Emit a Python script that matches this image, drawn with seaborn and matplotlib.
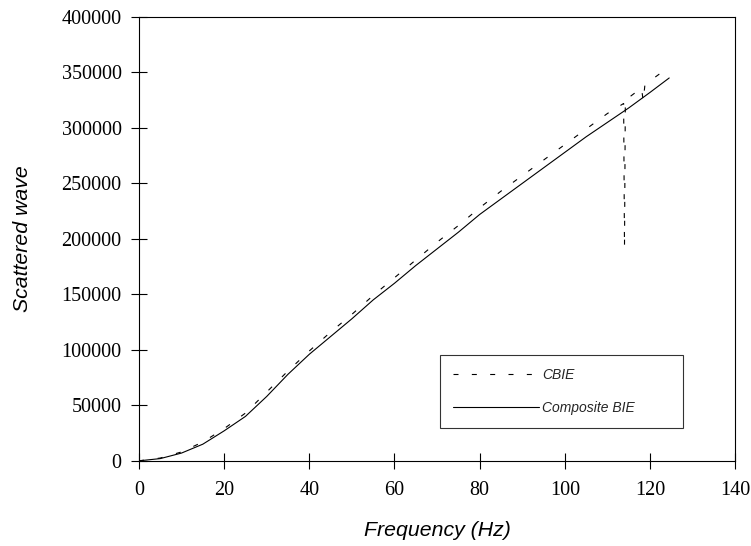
import pandas as pd
import matplotlib.pyplot as plt
import seaborn as sns
import numpy as np

# Composite BIE (solid)
freq_comp = [0, 5, 10, 15, 20, 25, 30, 35, 40, 45, 50, 55, 60, 65, 70, 75, 80,
             85, 90, 95, 100, 105, 110, 115, 120, 124.5]
wave_comp = [0, 2000, 7000, 15000, 27000, 40000, 58000, 78000, 96000, 112000,
             128000, 145000, 160000, 176000, 191000, 206000, 222000, 236000,
             250000, 264000, 278000, 292000, 305000, 318000, 332000, 345000]

# CBIE (dashed), with the spurious dips near 114 and 118 Hz
freq_cbie = [0, 5, 10, 15, 20, 25, 30, 35, 40, 45, 50, 55, 60, 65, 70, 75, 80,
             85, 90, 95, 100, 105, 110, 113.8, 114.0, 114.2, 118.0, 118.4,
             118.8, 122, 124.5]
wave_cbie = [0, 2500, 8000, 17000, 29000, 43000, 62000, 81000, 99000, 116000,
             132000, 149000, 165000, 181000, 197000, 212000, 228000, 243000,
             257000, 271000, 285000, 299000, 313000, 322000, 192000, 325000,
             336000, 324000, 339000, 348000, 355000]

sns.set_style('white')

fig = plt.figure(figsize=(7.51, 5.46), dpi=100)
ax = fig.add_axes([0.185, 0.156, 0.794, 0.813])

sns.lineplot(x=freq_cbie, y=wave_cbie, ax=ax, color='black', lw=0.8,
             sort=False, estimator=None, label='CBIE')
sns.lineplot(x=freq_comp, y=wave_comp, ax=ax, color='black', lw=0.8,
             sort=False, estimator=None, label='Composite BIE')
ax.lines[0].set_dashes((4.5, 12.5))

ax.set_xlim(0, 140)
ax.set_ylim(0, 400000)
ax.set_xticks(np.arange(0, 141, 20))
ax.set_yticks(np.arange(0, 400001, 50000))

for s in ax.spines.values():
    s.set_color('black')
    s.set_linewidth(0.8)

ax.tick_params(axis='both', direction='inout', length=11, width=0.8,
               color='black', left=True, bottom=True)
ax.tick_params(axis='x', pad=9)
ax.tick_params(axis='y', pad=7)
for lab in ax.get_xticklabels() + ax.get_yticklabels():
    lab.set_family('Liberation Serif')
    lab.set_fontsize(14.5)
    lab.set_color('black')

ax.set_xlabel('Frequency (Hz)', family='Liberation Sans', style='italic',
              fontsize=15.3, color='black', labelpad=15)
ax.set_ylabel('Scattered wave', family='Liberation Sans', style='italic',
              fontsize=15.3, color='black', labelpad=21)

leg = ax.legend(loc='lower left', bbox_to_anchor=(0.505, 0.074, 0.408, 0.162),
                mode='expand', borderaxespad=0, fancybox=False, frameon=True,
                handlelength=6.2, handletextpad=0.2, labelspacing=1.35,
                borderpad=0.95,
                prop={'family': 'Liberation Sans', 'style': 'italic', 'size': 10})
leg.get_frame().set_edgecolor('black')
leg.get_frame().set_linewidth(0.8)
leg.legend_handles[0].set_dashes((4.5, 12))

fig.savefig('out.png', dpi=100)
